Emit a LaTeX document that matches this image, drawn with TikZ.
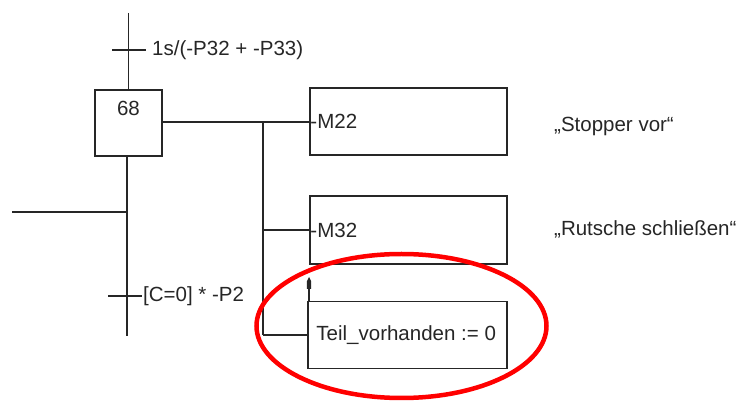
\documentclass[tikz,border=0pt]{standalone}
\usepackage{fontspec}
\setmainfont{Liberation Sans}
\usetikzlibrary{arrows.meta,shapes.geometric}
\begin{document}
\begin{tikzpicture}[x=1pt,y=-1pt,
  ln/.style={line width=1.5pt,black!85},
  box/.style={draw=black!85,line width=1.5pt,rectangle,inner sep=0pt},
  txt/.style={font=\fontsize{20.5}{24}\selectfont,inner sep=1pt,text=black!85}]
\useasboundingbox (0,0) rectangle (745,403);
% step
\node[box,minimum width=67pt,minimum height=66pt] (s68) at (128.5,123) {};
\node[txt,anchor=north] (n68) at (128.5,100) {68};
% actions
\node[box,minimum width=197pt,minimum height=67pt] (m22) at (408.5,121.5) {};
\node[txt,anchor=west] (t22) at (m22.west) {-M22};
\node[box,minimum width=197pt,minimum height=68pt] (m32) at (408.5,230) {};
\node[txt,anchor=west] (t32) at (m32.west) {-M32};
\node[box,minimum width=199pt,minimum height=67pt] (teil) at (407.5,335) {};
\node[txt,anchor=west] (tt) at ([xshift=8pt]teil.west) {Teil\_vorhanden := 0};
% comments
\node[txt,anchor=west] (c1) at (553,126) {„Stopper vor“};
\node[txt,anchor=west] (c2) at (553,229) {„Rutsche schließen“};
% coordinates
\coordinate (top) at (128.5,13);
\coordinate (bot) at (127,336);
\coordinate (lft) at (12,212);
\coordinate (j1) at (127,212);
\coordinate (br) at (263,122);
\coordinate (brb) at (263,335);
\coordinate (tr1l) at (112,50);
\coordinate (tr1r) at (146,50);
\coordinate (tr2l) at (108,296);
\coordinate (tr2r) at (142,296);
\coordinate (arrs) at (309,301);
\coordinate (arr) at (309,282);
% lines
\draw[ln] (top) -- (s68.north);
\draw[ln] (tr1l) -- (tr1r);
\draw[ln] (s68.south -| bot) -- (bot);
\draw[ln] (lft) -- (j1);
\draw[ln] (tr2l) -- (tr2r);
\draw[ln] (s68.east |- br) -- (m22.west |- br);
\draw[ln] (br) -- (brb);
\draw[ln] (br |- m32.west) -- (m32.west);
\draw[ln] (brb) -- (teil.west |- brb);
\draw[ln] (arrs) -- (arr);
\fill[black!85] (306.8,289) -- (307,281) -- (309,277) -- (311,281) -- (311.2,289) -- cycle;
% transition labels
\node[txt,anchor=west] (l1) at (151,50) {1s/(-P32 + -P33)};
\node[txt,anchor=west] (l2) at (142,296) {[C=0] * -P2};
% red ellipse
\node[draw=red,line width=4.5pt,ellipse,minimum width=290pt,minimum height=144pt,inner sep=0pt] (ell) at (401.5,326) {};
\end{tikzpicture}
\end{document}
